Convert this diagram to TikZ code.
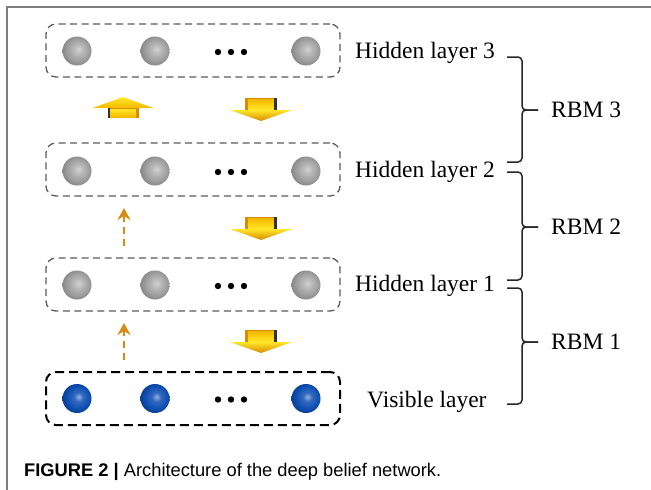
\documentclass[tikz,border=0pt]{standalone}
\usepackage{fontspec}
\setmainfont{Liberation Serif}
\newfontfamily\capfont{Liberation Sans}
\usetikzlibrary{arrows.meta}
\definecolor{framegray}{RGB}{125,125,125}
\definecolor{boxgray}{RGB}{90,90,90}
\definecolor{dashorange}{RGB}{214,140,20}
\definecolor{goldA}{RGB}{255,230,40}
\definecolor{goldB}{RGB}{245,185,0}
\definecolor{goldC}{RGB}{215,140,0}
\definecolor{balblue}{RGB}{14,78,178}
\pgfdeclareradialshading{grayball}{\pgfpoint{3bp}{3bp}}{color(0bp)=(gray!35); color(8bp)=(gray!55); color(20bp)=(gray!78); color(25bp)=(gray!90); color(50bp)=(gray!95)}
\pgfdeclareradialshading{blueball}{\pgfpoint{3bp}{3bp}}{color(0bp)=(balblue!45!white); color(8bp)=(balblue!85!white); color(20bp)=(balblue); color(25bp)=(balblue!85!black); color(50bp)=(balblue!80!black)}
\tikzset{
  hbox/.style={draw=boxgray, line width=1.3pt, dash pattern=on 7pt off 4.5pt, rounded corners=10pt, minimum width=294pt, minimum height=53pt, inner sep=0pt},
  vbox/.style={hbox, draw=black, line width=2pt, dash pattern=on 9pt off 5pt},
  neuron/.style={circle, minimum size=29pt, inner sep=0pt, shading=grayball},
  vneuron/.style={neuron, shading=blueball},
  lab/.style={font=\fontsize{23.5}{28}\selectfont, inner sep=0pt},
  brace/.style={draw=black!85, line width=1.5pt, rounded corners=4pt},
  dasharrow/.style={draw=dashorange, line width=2pt, dash pattern=on 7pt off 5pt, -{Stealth[length=12pt,width=13pt,inset=4pt]}},
  dotfill/.style={fill=black},
  pics/golddown/.style={code={
    \shade[top color=goldA, bottom color=goldC] (-31,12) -- (31,12) -- (0,23) -- cycle;
    \fill[goldC] (-16,0) rectangle (16,12);
    \shade[top color=goldB, bottom color=goldA] (-13,1.5) rectangle (13,11.5);
    \fill[black!80] (13,0) rectangle (15.5,12);
  }},
  pics/goldup/.style={code={
    \shade[top color=goldA, bottom color=goldB] (-30.5,11) -- (0,0) -- (30.5,11) -- cycle;
    \fill[goldC] (-15.5,11) rectangle (15.5,21);
    \shade[top color=goldA, bottom color=goldB] (-13,12) rectangle (13,20);
    \fill[black!80] (-15.5,11) rectangle (-13,21);
  }}
}
\begin{document}
\begin{tikzpicture}[x=1pt,y=-1pt]
\useasboundingbox (0,0) rectangle (651,490);
% frame
\coordinate (fbl) at (7,490);
\coordinate (ftl) at (7,7);
\coordinate (ftr) at (651,7);
\draw[framegray, line width=1.5pt] (fbl) -- (ftl) -- (ftr);
% layers
\node[hbox] (box3) at (193,50.5) {};
\node[hbox] (box2) at (193,169.5) {};
\node[hbox] (box1) at (193,284.5) {};
\node[vbox] (box0) at (193,398.5) {};
\foreach \L/\y/\s in {3/51/neuron,2/171/neuron,1/285/neuron,0/398.5/vneuron}{
  \node[\s] (n\L a) at (77,\y) {};
  \node[\s] (n\L b) at (155,\y) {};
  \node[\s] (n\L c) at (306,\y) {};
  \fill[dotfill] (218,\y+1) circle (3.2) (231,\y+1) circle (3.2) (244,\y+1) circle (3.2);
}
% labels
\node[lab, anchor=base west] (l3) at (355,58.3) {Hidden layer 3};
\node[lab, anchor=base west] (l2) at (355,177.5) {Hidden layer 2};
\node[lab, anchor=base west] (l1) at (355,291) {Hidden layer 1};
\node[lab, anchor=base west] (l0) at (367,407.5) {Visible layer};
% braces
\coordinate (b3t) at (507,57);  \coordinate (b3m) at (522,110); \coordinate (b3p) at (538,110); \coordinate (b3b) at (507,162);
\coordinate (b2t) at (507,172); \coordinate (b2m) at (522,227); \coordinate (b2p) at (538,227); \coordinate (b2b) at (507,280);
\coordinate (b1t) at (507,288); \coordinate (b1m) at (522,342); \coordinate (b1p) at (538,342); \coordinate (b1b) at (507,404);
\foreach \i in {3,2,1}{
  \draw[brace] (b\i t) -| (b\i m) -- (b\i p);
  \draw[brace] (b\i b) -| (b\i m) -- (b\i p);
}
\node[lab, anchor=west] (r3) at (551,110) {RBM 3};
\node[lab, anchor=west] (r2) at (551,227) {RBM 2};
\node[lab, anchor=west] (r1) at (551,342) {RBM 1};
% gold arrows
\pic at (123,97) {goldup};
\pic at (261,98) {golddown};
\pic at (261,217) {golddown};
\pic at (261,330) {golddown};
% dashed arrows
\coordinate (u2s) at (124,246); \coordinate (u2e) at (124,208);
\coordinate (u1s) at (124,360); \coordinate (u1e) at (124,323);
\draw[dasharrow] (u2s) -- (u2e);
\draw[dasharrow] (u1s) -- (u1e);
% caption
\node[anchor=west, inner sep=0pt, font=\capfont\fontsize{18.3}{22}\selectfont] (cap) at (24,472) {\textbf{FIGURE 2 |} Architecture of the deep belief network.};
\end{tikzpicture}
\end{document}
